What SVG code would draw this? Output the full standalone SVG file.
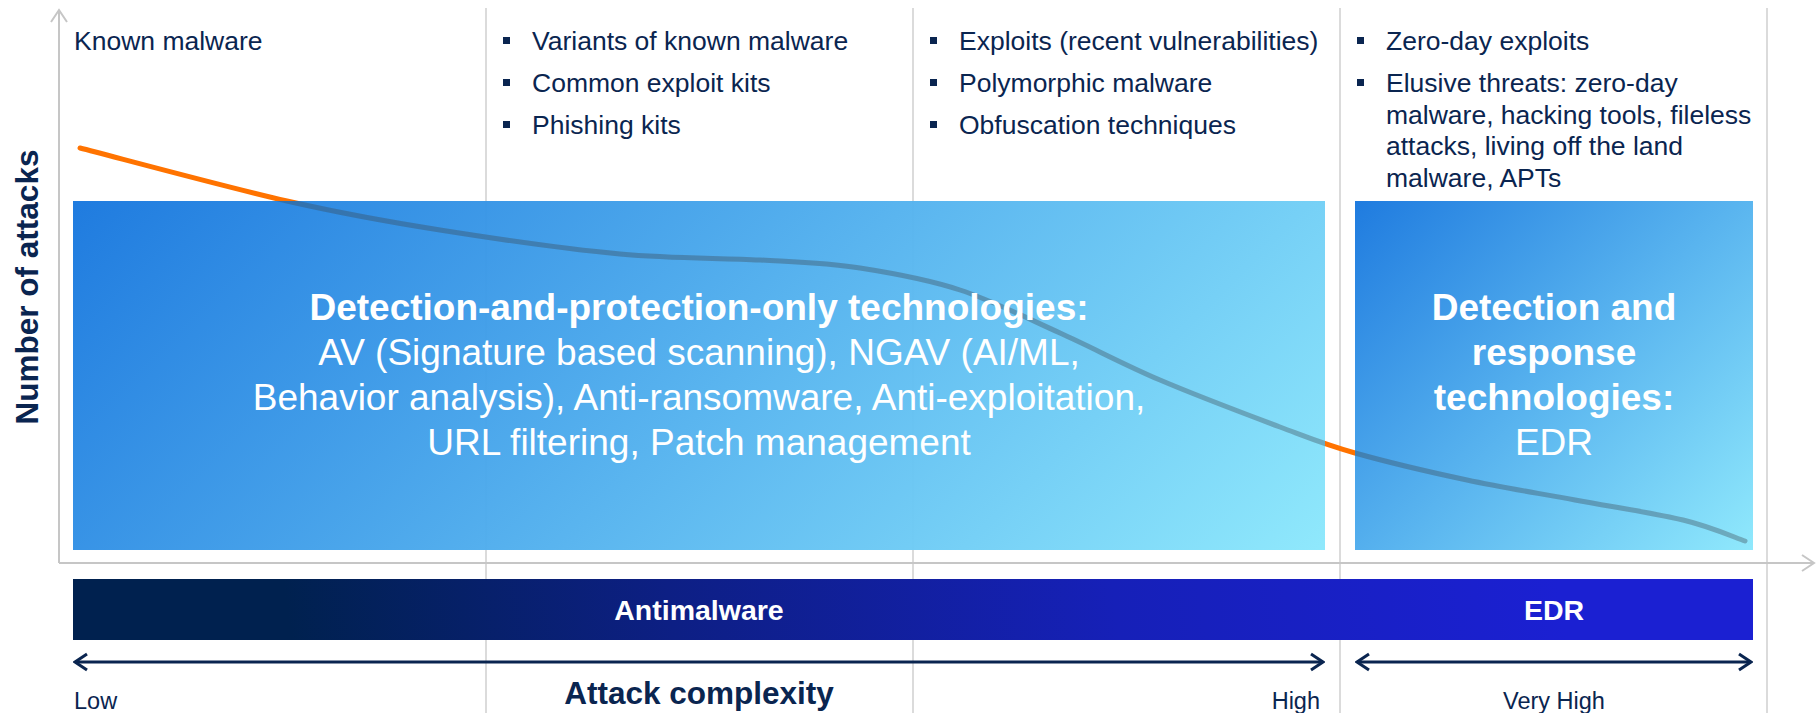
<svg xmlns="http://www.w3.org/2000/svg" width="1816" height="713" viewBox="0 0 1816 713">
<defs>
<style>
.t{font-family:"Liberation Sans",Arial,sans-serif;fill:#0a2550;font-size:26.5px}
.w{font-family:"Liberation Sans",Arial,sans-serif;fill:#ffffff;font-size:37px;text-anchor:middle}
.bar{font-family:"Liberation Sans",Arial,sans-serif;fill:#ffffff;font-size:28.5px;font-weight:bold;text-anchor:middle}
.lbl{font-family:"Liberation Sans",Arial,sans-serif;fill:#0a2550;font-size:23.5px}
.ttl{font-family:"Liberation Sans",Arial,sans-serif;fill:#0a2550;font-size:31.5px;font-weight:bold;text-anchor:middle}
.b{font-weight:bold}
.grid{stroke:#d2d2d2;stroke-width:1.6}
.axis{stroke:#c6c6c6;stroke-width:2;fill:none}
.blt{fill:#0a2550}
.dim{stroke:#0a2550;stroke-width:3;fill:none}
.curve{fill:none;stroke-width:5;stroke-linecap:round;stroke-linejoin:round}
</style>
<path id="trendPath" class="curve" d="M80,148 C114.5,156.8 227,187.3 287,201 C347,214.7 384.5,221.2 440,230 C495.5,238.8 566.7,249.2 620,254 C673.3,258.8 720,257.8 760,260 C800,262.2 826.7,262.8 860,268 C893.3,273.2 926.7,279 960,290 C993.3,301 1026.7,318 1060,333 C1093.3,348 1123.3,364.3 1160,380 C1196.7,395.7 1247.5,414.8 1280,427 C1312.5,439.2 1323.8,444.2 1355,453 C1386.2,461.8 1430.3,472.2 1467,480 C1503.7,487.8 1539,493.3 1575,500 C1611,506.7 1654.7,513.2 1683,520 C1711.3,526.8 1734.7,537.5 1745,541"/>
<linearGradient id="gMain" gradientUnits="userSpaceOnUse" x1="73" y1="201" x2="873.5" y2="1001.5">
<stop offset="0" stop-color="#1877de"/><stop offset="0.5" stop-color="#52b0ee"/><stop offset="1" stop-color="#8ce8fc"/>
</linearGradient>
<linearGradient id="gEdr" gradientUnits="userSpaceOnUse" x1="1355" y1="201" x2="1728.5" y2="574.5">
<stop offset="0" stop-color="#1877de"/><stop offset="0.5" stop-color="#52b0ee"/><stop offset="1" stop-color="#8ce8fc"/>
</linearGradient>
<linearGradient id="gBar" gradientUnits="userSpaceOnUse" x1="300" y1="700" x2="1550" y2="520">
<stop offset="0" stop-color="#00214f"/><stop offset="0.3" stop-color="#0d1f84"/><stop offset="0.65" stop-color="#1620b8"/><stop offset="1" stop-color="#1b20d2"/>
</linearGradient>
<clipPath id="boxClip">
<rect x="73" y="201" width="1252" height="349"/>
<rect x="1355" y="201" width="398" height="349"/>
</clipPath>
<marker id="ah" viewBox="0 0 16 20" refX="14" refY="10" markerWidth="16" markerHeight="20" markerUnits="userSpaceOnUse" orient="auto-start-reverse">
<path d="M2,2 L14,10 L2,18" fill="none" stroke="#0a2550" stroke-width="3"/>
</marker>
<marker id="gh" viewBox="0 0 16 20" refX="14" refY="10" markerWidth="16" markerHeight="20" markerUnits="userSpaceOnUse" orient="auto">
<path d="M2,2 L14,10 L2,18" fill="none" stroke="#c6c6c6" stroke-width="2"/>
</marker>
</defs>
<rect width="1816" height="713" fill="#ffffff"/>

<g id="grid">
<line class="grid" x1="486" y1="8" x2="486" y2="713"/>
<line class="grid" x1="913" y1="8" x2="913" y2="713"/>
<line class="grid" x1="1340" y1="8" x2="1340" y2="713"/>
<line class="grid" x1="1767" y1="8" x2="1767" y2="713"/>
</g>

<g id="axes">
<line class="axis" x1="59" y1="563" x2="59" y2="10" marker-end="url(#gh)"/>
<line class="axis" x1="59" y1="563" x2="1814" y2="563" marker-end="url(#gh)"/>
<text class="ttl" transform="translate(38,287) rotate(-90)">Number of attacks</text>
</g>

<g id="connectors">
<use id="trend" href="#trendPath" stroke="#ff7300"/>
<line class="dim" x1="75" y1="662" x2="1323" y2="662" marker-start="url(#ah)" marker-end="url(#ah)"/>
<line class="dim" x1="1357" y1="662" x2="1751" y2="662" marker-start="url(#ah)" marker-end="url(#ah)"/>
</g>

<g id="col-known">
<text class="t" x="74" y="50">Known malware</text>
</g>
<g id="col-variants">
<rect class="blt" x="503" y="37" width="7" height="7"/>
<rect class="blt" x="503" y="79" width="7" height="7"/>
<rect class="blt" x="503" y="121" width="7" height="7"/>
<text class="t" x="532" y="50">Variants of known malware</text>
<text class="t" x="532" y="92">Common exploit kits</text>
<text class="t" x="532" y="134">Phishing kits</text>
</g>
<g id="col-exploits">
<rect class="blt" x="930" y="37" width="7" height="7"/>
<rect class="blt" x="930" y="79" width="7" height="7"/>
<rect class="blt" x="930" y="121" width="7" height="7"/>
<text class="t" x="959" y="50">Exploits (recent vulnerabilities)</text>
<text class="t" x="959" y="92">Polymorphic malware</text>
<text class="t" x="959" y="134">Obfuscation techniques</text>
</g>
<g id="col-zeroday">
<rect class="blt" x="1357" y="37" width="7" height="7"/>
<rect class="blt" x="1357" y="79" width="7" height="7"/>
<text class="t" x="1386" y="50">Zero-day exploits</text>
<text class="t" x="1386" y="92">Elusive threats: zero-day</text>
<text class="t" x="1386" y="123.5">malware, hacking tools, fileless</text>
<text class="t" x="1386" y="155">attacks, living off the land</text>
<text class="t" x="1386" y="186.5">malware, APTs</text>
</g>

<g id="box-protection">
<rect x="73" y="201" width="1252" height="349" fill="url(#gMain)" fill-opacity="0.97"/>
</g>
<g id="box-edr">
<rect x="1355" y="201" width="398" height="349" fill="url(#gEdr)" fill-opacity="0.97"/>
</g>
<g id="trend-shade" clip-path="url(#boxClip)">
<use href="#trendPath" stroke="#3a4d5e" stroke-opacity="0.36"/>
</g>
<g id="box-protection-text">
<text class="w b" x="699" y="320">Detection-and-protection-only technologies:</text>
<text class="w" x="699" y="365">AV (Signature based scanning), NGAV (AI/ML,</text>
<text class="w" x="699" y="410">Behavior analysis), Anti-ransomware, Anti-exploitation,</text>
<text class="w" x="699" y="455">URL filtering, Patch management</text>
</g>
<g id="box-edr-text">
<text class="w b" x="1554" y="320">Detection and</text>
<text class="w b" x="1554" y="365">response</text>
<text class="w b" x="1554" y="410">technologies:</text>
<text class="w" x="1554" y="455">EDR</text>
</g>

<g id="bar">
<rect x="73" y="579" width="1680" height="61" fill="url(#gBar)"/>
<text class="bar" x="699" y="620">Antimalware</text>
<text class="bar" x="1554" y="620">EDR</text>
</g>

<g id="scale-labels">
<text class="lbl" x="74" y="709">Low</text>
<text class="ttl" x="699" y="704">Attack complexity</text>
<text class="lbl" x="1320" y="709" text-anchor="end">High</text>
<text class="lbl" x="1554" y="709" text-anchor="middle">Very High</text>
</g>
</svg>
